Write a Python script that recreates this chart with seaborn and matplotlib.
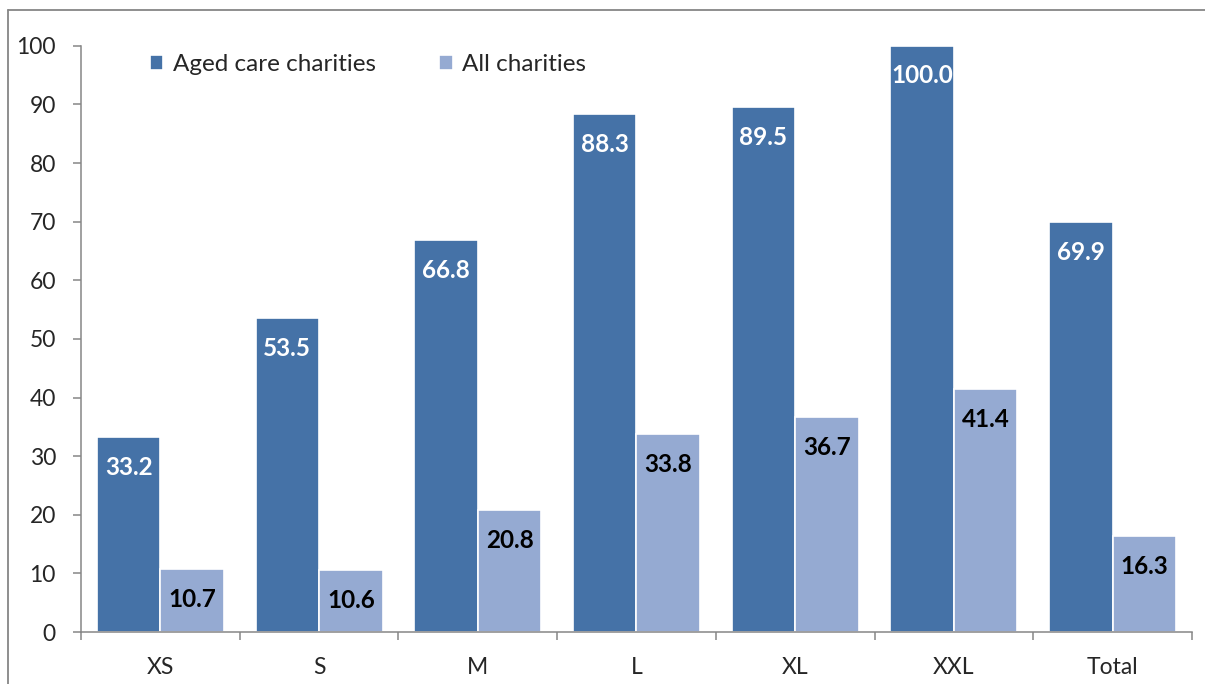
import pandas as pd
import matplotlib
matplotlib.use("Agg")
import matplotlib.pyplot as plt
from matplotlib.lines import Line2D
import seaborn as sns

# ------------------------------------------------------------
# data
# ------------------------------------------------------------
categories = ["XS", "S", "M", "L", "XL", "XXL", "Total"]
aged_care = [33.2, 53.5, 66.8, 88.3, 89.5, 100.0, 69.9]
all_charities = [10.7, 10.6, 20.8, 33.8, 36.7, 41.4, 16.3]
series_names = ["Aged care charities", "All charities"]
y_ticks = list(range(0, 101, 10))

df = pd.DataFrame({
    "size": categories * 2,
    "value": aged_care + all_charities,
    "series": [series_names[0]] * len(categories) + [series_names[1]] * len(categories),
})

dark_blue = "#4572A7"
light_blue = "#95AAD2"
axis_grey = "#868686"

sns.set_style("white")
plt.rcParams["font.family"] = ["Lato", "DejaVu Sans"]

fig = plt.figure(figsize=(12.05, 6.84), dpi=100)
ax = fig.add_axes([0.0672, 0.076, 0.922, 0.857])

sns.barplot(
    data=df, x="size", y="value", hue="series",
    palette=[dark_blue, light_blue], saturation=1, width=0.8,
    edgecolor="white", linewidth=1.2, ax=ax,
)

# value labels inside bars
label_colors = ["white", "black"]
for container, col in zip(ax.containers, label_colors):
    ax.bar_label(container, fmt="%.1f", padding=-30, color=col,
                 fontsize=17.5, fontweight="bold")

ax.set_ylim(0, 100)
ax.set_xlim(-0.5, len(categories) - 0.5)
ax.set_yticks(y_ticks)
ax.set_xlabel("")
ax.set_ylabel("")

# spines and ticks
for side in ["top", "right"]:
    ax.spines[side].set_visible(False)
for side in ["left", "bottom"]:
    ax.spines[side].set_color(axis_grey)
    ax.spines[side].set_linewidth(1.1)

ax.tick_params(axis="y", which="major", direction="out", length=6, width=1.1,
               color=axis_grey, labelsize=16.5, pad=12, left=True)
ax.tick_params(axis="x", which="major", length=0, labelsize=16.5, pad=18)
ax.set_xticks([i - 0.5 for i in range(len(categories) + 1)], minor=True)
ax.tick_params(axis="x", which="minor", direction="out", length=6, width=1.1,
               color=axis_grey, bottom=True)

# legend
ax.legend(
    loc="center left", bbox_to_anchor=(0.062, 0.968), ncol=2, frameon=False,
    fontsize=17.5, handlelength=0.55, handleheight=0.55, handletextpad=0.4,
    columnspacing=2.6, borderpad=0, borderaxespad=0,
)

# outer chart frame (partially cropped in the original)
fig.add_artist(Line2D([8 / 1205, 1.0], [1 - 10 / 684, 1 - 10 / 684],
                      transform=fig.transFigure, color=axis_grey, lw=1.3))
fig.add_artist(Line2D([8 / 1205, 8 / 1205], [0.0, 1 - 10 / 684],
                      transform=fig.transFigure, color=axis_grey, lw=1.3))

fig.savefig("out.png", dpi=100, facecolor="white")
